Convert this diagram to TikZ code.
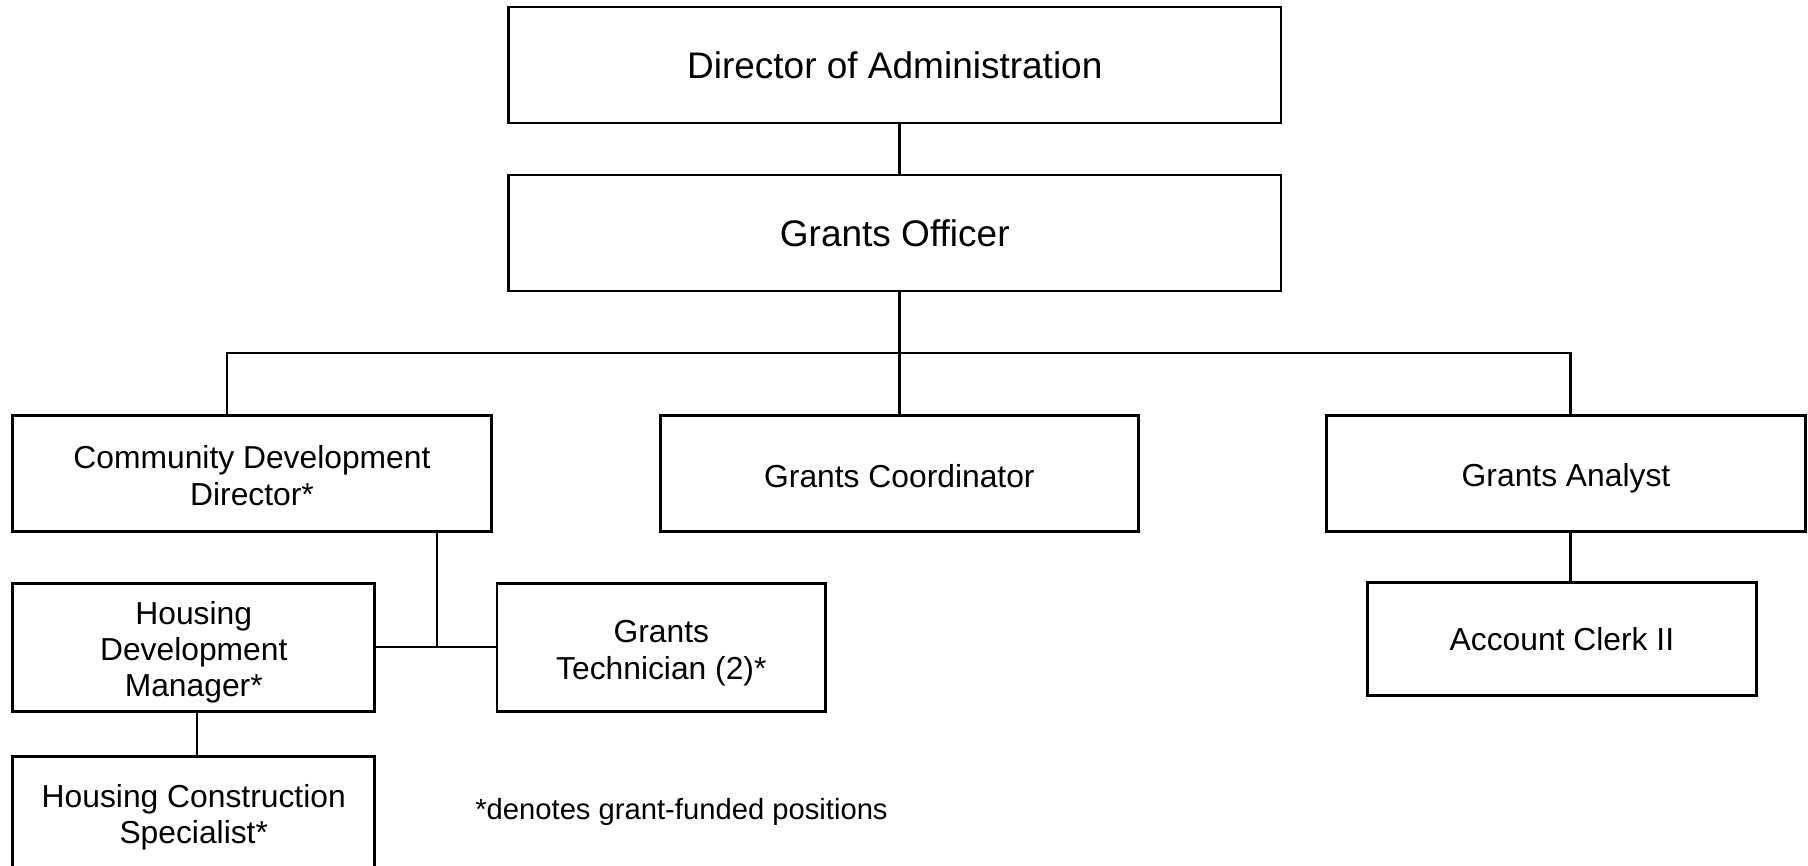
\documentclass[tikz,border=0pt]{standalone}
\usepackage{fontspec}
\setmainfont{Liberation Sans}
% invisible rule that sets the height of a first text line
\newcommand{\firstline}[1]{\rule{0pt}{#1}}
\begin{document}
\begin{tikzpicture}[x=0.5pt,y=-0.5pt,
  box/.style={draw=black, line width=1.4pt, fill=white, inner sep=0pt, align=center},
  bigtxt/.style={font=\fontsize{18.5}{22}\selectfont},
  midtxt/.style={font=\fontsize{15.9}{18.4}\selectfont},
  link/.style={draw=black, line width=1.1pt},
  note/.style={font=\fontsize{14.6}{17}\selectfont, inner sep=0pt}]
\clip (0,0) rectangle (1808,866);
\fill[white] (0,0) rectangle (1808,866);

% top of the chart
\node[box, bigtxt, minimum width=386.25pt, minimum height=58pt] (dir) at (894.75,65) {Director of Administration};
\node[box, bigtxt, minimum width=386.25pt, minimum height=58pt] (off) at (894.75,233) {Grants Officer};

% second level
\node[box, midtxt, minimum width=239.25pt, minimum height=58.25pt] (cdd) at (252,473.4)
  {\firstline{13.4pt}Community Development\\Director*};
\node[box, midtxt, minimum width=238.7pt, minimum height=58.25pt, text height=13.9pt, text depth=0pt] (gc) at (899.4,473.4) {Grants Coordinator};
\node[box, midtxt, minimum width=239.85pt, minimum height=58.25pt, text height=12.8pt, text depth=0pt] (ga) at (1566,473.4) {Grants Analyst};

% third level
\node[box, midtxt, font=\fontsize{15.9}{17.9}\selectfont, minimum width=181pt, minimum height=64pt] (hdm) at (193.75,647.5)
  {\firstline{16pt}Housing\\Development\\Manager*};
\node[box, midtxt, minimum width=164.3pt, minimum height=64pt] (gt) at (661.3,647.5)
  {\firstline{16.8pt}Grants\\Technician (2)*};
\node[box, midtxt, minimum width=194.3pt, minimum height=56.5pt] (acc) at (1561.9,638.8) {Account Clerk II};
\node[box, midtxt, minimum width=181pt, minimum height=57.8pt] (hcs) at (193.75,814.2)
  {\firstline{14.5pt}Housing Construction\\Specialist*};

% footnote
\node[note] (fn) at (681.5,811.8) {*denotes grant-funded positions};

% connector anchors
\coordinate (bus) at (899.4,352.8);
\coordinate (busL) at (227.2,352.8);
\coordinate (busR) at (1570.5,352.8);
\coordinate (tee) at (437,646.9);
\coordinate (hx) at (197.2,711.5);

% connectors
\draw[link] (dir.south -| bus) -- (off.north -| bus);
\draw[link] (off.south -| bus) -- (gc.north -| bus);
\draw[link] (cdd.north -| busL) -- (busL) -- (busR) -- (ga.north -| busR);
\draw[link] (cdd.south -| tee) -- (tee);
\draw[link] (hdm.east |- tee) -- (gt.west |- tee);
\draw[link] (hdm.south -| hx) -- (hcs.north -| hx);
\draw[link] (ga.south -| busR) -- (acc.north -| busR);
\end{tikzpicture}
\end{document}
